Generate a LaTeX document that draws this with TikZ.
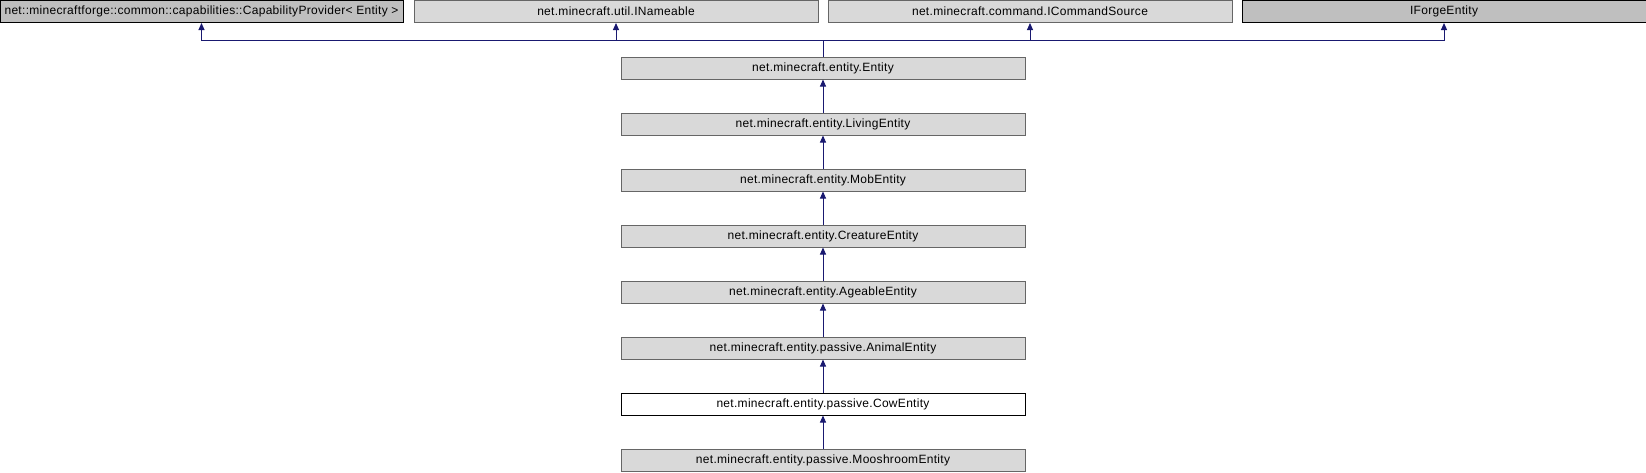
\documentclass[tikz,border=0pt]{standalone}
\usepackage{fontspec}
\setmainfont{Liberation Sans}[LetterSpace=2.5]
\usetikzlibrary{arrows.meta}
\definecolor{edgeblue}{HTML}{191970}
\definecolor{lightfill}{HTML}{D9D9D9}
\definecolor{darkfill}{HTML}{BFBFBF}
\definecolor{lightline}{HTML}{666666}
\begin{document}
\begin{tikzpicture}[
        x=1pt, y=-1pt,
        box/.style={draw=lightline, line width=1pt, minimum width=404pt, minimum height=22pt, inner sep=0pt, align=center, fill=lightfill, font=\fontsize{12}{14}\selectfont},
        basebox/.style={box, draw=black, fill=darkfill},
        focusbox/.style={box, draw=black, fill=white},
        arrow/.style={-{Triangle[length=7pt,width=6pt]}, line width=1pt, draw=edgeblue}
    ]
        \useasboundingbox (0,0) rectangle (1646,472);
        % Base classes and interfaces
        \node[basebox, minimum width=403pt] (capprov) at (201.5,11.5) {net::minecraftforge::common::capabilities::CapabilityProvider< Entity >};
        \node[box] (nameable) at (616,11.5) {net.minecraft.util.INameable};
        \node[box] (cmdsrc) at (1030,11.5) {net.minecraft.command.ICommandSource};
        \node[basebox] (forge) at (1444,11.5) {IForgeEntity};

        % Entity hierarchy
        \node[box] (entity) at (823,68) {net.minecraft.entity.Entity};
        \node[box] (living) at (823,124) {net.minecraft.entity.LivingEntity};
        \node[box] (mob) at (823,180) {net.minecraft.entity.MobEntity};
        \node[box] (creature) at (823,236) {net.minecraft.entity.CreatureEntity};
        \node[box] (ageable) at (823,292) {net.minecraft.entity.AgeableEntity};
        \node[box] (animal) at (823,348) {net.minecraft.entity.passive.AnimalEntity};
        \node[focusbox] (cow) at (823,404) {net.minecraft.entity.passive.CowEntity};
        \node[box] (mooshroom) at (823,460) {net.minecraft.entity.passive.MooshroomEntity};

        \coordinate (split) at (823,40);
        \draw[arrow] (entity.north) -- (split) -| (capprov.south);
        \draw[arrow] (split) -| (nameable.south);
        \draw[arrow] (split) -| (cmdsrc.south);
        \draw[arrow] (split) -| (forge.south);

        \draw[arrow] (living) -- (entity);
        \draw[arrow] (mob) -- (living);
        \draw[arrow] (creature) -- (mob);
        \draw[arrow] (ageable) -- (creature);
        \draw[arrow] (animal) -- (ageable);
        \draw[arrow] (cow) -- (animal);
        \draw[arrow] (mooshroom) -- (cow);
    \end{tikzpicture}
\end{document}
